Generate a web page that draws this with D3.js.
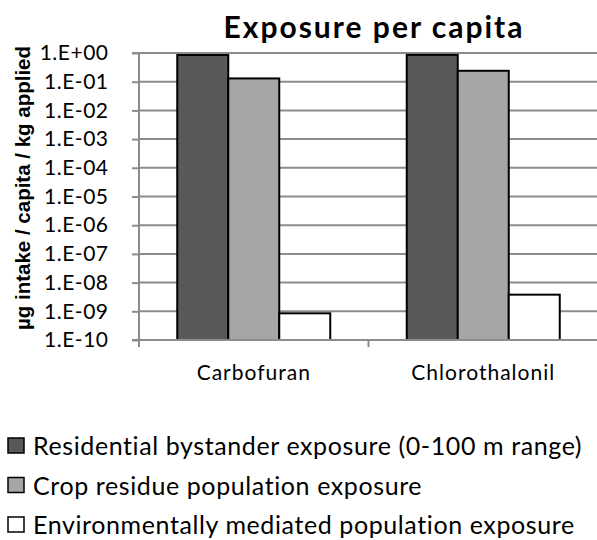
<!DOCTYPE html>
<html>
<head>
<meta charset="utf-8">
<script src="https://cdn.jsdelivr.net/npm/d3@7"></script>
<style>
  body { margin: 0; background: #fff; }
  text { fill: #000; }
</style>
</head>
<body>
<script>
// data
var categories = ["Carbofuran", "Chlorothalonil"];
var seriesNames = [
  "Residential bystander exposure (0-100 m range)",
  "Crop residue population exposure",
  "Environmentally mediated population exposure"
];
var residential = [0.85, 0.86];
var cropResidue = [0.13, 0.24];
var environmental = [8.5e-10, 3.8e-9];
var tickValues = [1e0, 1e-1, 1e-2, 1e-3, 1e-4, 1e-5, 1e-6, 1e-7, 1e-8, 1e-9, 1e-10];
var tickLabels = ["1.E+00", "1.E-01", "1.E-02", "1.E-03", "1.E-04", "1.E-05",
                  "1.E-06", "1.E-07", "1.E-08", "1.E-09", "1.E-10"];
var colors = ["#595959", "#a6a6a6", "#ffffff"];

var svgWidth = 597;
var svgHeight = 540;
var margin = { top: 53, right: 0, bottom: 200, left: 139 };
var width = 459;
var height = 287;

var svg = d3.select("body").append("svg")
  .attr("width", svgWidth)
  .attr("height", svgHeight)
  .style("font-family", "Lato, 'Open Sans', sans-serif");

var chartGroup = svg.append("g")
  .attr("transform", `translate(${margin.left}, ${margin.top})`);

var series = [residential, cropResidue, environmental];

// x scales
var x0 = d3.scaleBand().domain(categories).range([0, width]).padding(0);
var x1 = d3.scaleBand().domain(d3.range(3)).range([0, x0.bandwidth()])
  .paddingInner(0).paddingOuter(0.75);

// y scale (log)
var yLogScale = d3.scaleLog().domain([1e-10, 1]).range([height, 0]);

// gridlines
chartGroup.append("g")
  .selectAll("line")
  .data(tickValues.slice(0, -1))
  .enter()
  .append("line")
  .attr("x1", 0)
  .attr("x2", width)
  .attr("y1", d => yLogScale(d))
  .attr("y2", d => yLogScale(d))
  .attr("stroke", "#8c8c8c")
  .attr("stroke-width", 2);

// y axis
var leftAxis = d3.axisLeft(yLogScale)
  .tickValues(tickValues)
  .tickSize(7)
  .tickPadding(23.5)
  .tickFormat((d, i) => tickLabels[i]);

var yAxis = chartGroup.append("g").call(leftAxis);
yAxis.select(".domain").attr("stroke", "#8c8c8c").attr("stroke-width", 2)
  .attr("d", `M-7,0H0V${height}H-7`);
yAxis.selectAll(".tick line").attr("stroke", "#8c8c8c").attr("stroke-width", 2);
yAxis.selectAll(".tick text")
  .attr("font-size", 21)
  .attr("letter-spacing", 0.5)
  .attr("font-family", "Lato, sans-serif")
  .attr("fill", "#000");

// bars
categories.forEach(function(cat, ci) {
  var g = chartGroup.append("g")
    .attr("transform", `translate(${x0(cat)}, 0)`);
  g.selectAll("rect")
    .data(series.map((s, si) => ({ si: si, v: s[ci] })))
    .enter()
    .append("rect")
    .attr("x", d => x1(d.si))
    .attr("y", d => yLogScale(d.v))
    .attr("width", x1.bandwidth())
    .attr("height", d => height - yLogScale(d.v))
    .attr("fill", d => colors[d.si])
    .attr("stroke", "#000")
    .attr("stroke-width", 2);
});

// x axis
var bottomAxis = d3.axisBottom(x0).tickSize(0).tickPadding(25);
var xAxis = chartGroup.append("g")
  .attr("transform", `translate(0, ${height})`)
  .call(bottomAxis);
xAxis.select(".domain").attr("stroke", "#8c8c8c").attr("stroke-width", 2)
  .attr("d", `M0,0H${width}`);
xAxis.selectAll(".tick text")
  .attr("font-size", 21)
  .attr("letter-spacing", 1)
  .attr("font-family", "Lato, sans-serif")
  .attr("fill", "#000");
// category separator ticks
xAxis.append("g")
  .selectAll("line")
  .data([0, x0.bandwidth()])
  .enter()
  .append("line")
  .attr("x1", d => d)
  .attr("x2", d => d)
  .attr("y1", 0)
  .attr("y2", 7)
  .attr("stroke", "#8c8c8c")
  .attr("stroke-width", 2);

// title
svg.append("text")
  .attr("x", 374)
  .attr("y", 38)
  .attr("text-anchor", "middle")
  .attr("font-size", 30)
  .attr("letter-spacing", 2)
  .attr("font-weight", "bold")
  .text("Exposure per capita");

// y axis title
svg.append("text")
  .attr("transform", "translate(30, 188) rotate(-90)")
  .attr("text-anchor", "middle")
  .attr("font-family", "'Liberation Sans', Arial, sans-serif")
  .attr("font-size", 20.5)
  .attr("font-weight", "bold")
  .text("µg intake / capita / kg applied");

// legend
var legend = svg.append("g").attr("transform", "translate(7, 437)");
var legendItems = legend.selectAll("g")
  .data(seriesNames)
  .enter()
  .append("g")
  .attr("transform", (d, i) => `translate(0, ${i * 39.5})`);
legendItems.append("rect")
  .attr("x", 1)
  .attr("y", 1)
  .attr("width", 16)
  .attr("height", 15)
  .attr("fill", (d, i) => colors[i])
  .attr("stroke", "#000")
  .attr("stroke-width", 1.5);
legendItems.append("text")
  .attr("x", 26)
  .attr("y", 18)
  .attr("font-size", 25)
  .attr("letter-spacing", 0.6)
  .text(d => d);
</script>
</body>
</html>
